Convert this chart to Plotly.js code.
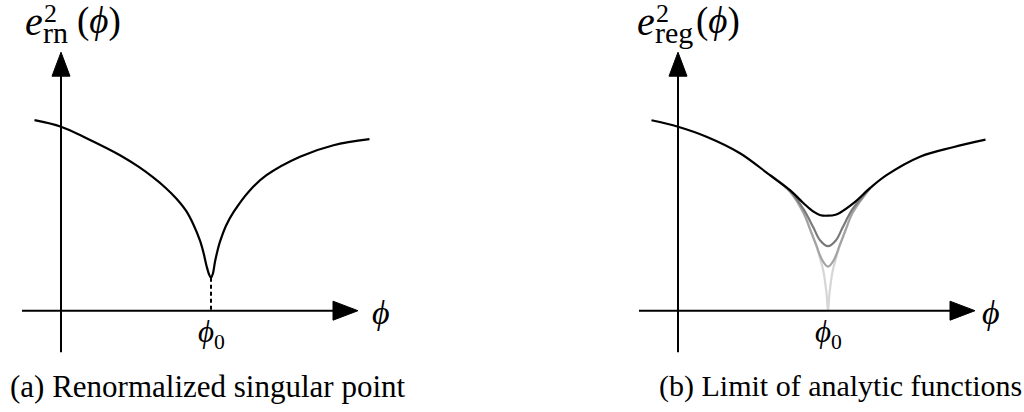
<!DOCTYPE html>
<html>
<head>
<meta charset="utf-8">
<script src="https://cdn.plot.ly/plotly-3.0.1.min.js"></script>
<style>
#chart text { font-family: "Liberation Serif", "Times New Roman", serif !important; }
</style>
</head>
<body style="margin:0;background:#fff">
<div id="chart" style="width:1024px;height:412px"></div>
<script>
// ---- data (phi in schematic units, phi0 = 3) ----
const phi0 = 3.0;
// (a) renormalized error with singular point
const phiRn = [-0.53, 0, 0.51, 1.18, 1.55, 1.85, 2.1, 2.31, 2.5, 2.65, 2.78, 2.85, 2.91, 2.96, 3.0, 3.04, 3.08, 3.13, 3.18, 3.3, 3.45, 3.78, 4.11, 4.78, 5.45, 6.17];
const e2Rn  = [3.81, 3.68, 3.45, 3.11, 2.88, 2.66, 2.45, 2.24, 2.00, 1.72, 1.40, 1.16, 0.90, 0.73, 0.66, 0.75, 0.98, 1.20, 1.38, 1.70, 1.97, 2.41, 2.71, 3.08, 3.31, 3.43];
// (b) regularized errors, sequence of analytic functions
const phiReg = [-0.53, 0, 0.57, 1.24, 1.84, 2.24, 2.51, 2.71, 2.85, 3.0, 3.15, 3.24, 3.51, 3.84, 4.17, 4.84, 5.5, 6.15];
const e2Reg1 = [3.81, 3.68, 3.48, 3.15, 2.71, 2.41, 2.15, 1.98, 1.91, 1.90, 1.92, 1.96, 2.15, 2.45, 2.71, 3.08, 3.27, 3.42];
const phiReg2 = [1.84, 2.24, 2.51, 2.71, 2.84, 3.0, 3.16, 3.29, 3.49, 3.84];
const e2Reg2  = [2.71, 2.40, 2.03, 1.66, 1.41, 1.29, 1.41, 1.66, 2.03, 2.45];
const phiReg3 = [1.84, 2.24, 2.51, 2.64, 2.77, 2.88, 3.0, 3.12, 3.23, 3.36, 3.49, 3.84];
const e2Reg3  = [2.71, 2.38, 1.96, 1.63, 1.30, 1.02, 0.88, 1.02, 1.30, 1.63, 1.96, 2.45];
const phiLim = [1.84, 2.24, 2.51, 2.71, 2.84, 2.91, 2.97, 3.0, 3.03, 3.09, 3.16, 3.29, 3.49, 3.84];
const e2Lim  = [2.71, 2.38, 1.95, 1.45, 1.05, 0.78, 0.35, 0, 0.35, 0.78, 1.05, 1.45, 1.95, 2.45];
// text
const yLabelA = {base: "e", sup: "2", sub: "rn"};
const yLabelB = {base: "e", sup: "2", sub: "reg"};
const xLabel = "ϕ";
const captionA = "(a) Renormalized singular point";
const captionB = "(b) Limit of analytic functions";

// ---- layout helpers ----
const W = 1024, H = 412;
const FONT = "Liberation Serif, Times New Roman, serif";
const toPaperX = x => x / W;
const toPaperY = y => 1 - y / H;

function makeCurve(x, y, xa, ya, color, extra) {
  return Object.assign({
    x: x, y: y, xaxis: xa, yaxis: ya, type: "scatter", mode: "lines",
    line: {color: color, width: 2.2, shape: "spline", smoothing: 1},
    hoverinfo: "skip", showlegend: false
  }, extra || {});
}

const traces = [
  makeCurve(phiRn, e2Rn, "x", "y", "#000000"),
  makeCurve([phi0, phi0], [e2Rn[phiRn.indexOf(phi0)], 0], "x", "y", "#000000",
        {line: {color: "#000", width: 2, dash: "4px,3px"}}),
  makeCurve(phiLim, e2Lim, "x2", "y2", "#d6d6d6"),
  makeCurve(phiReg3, e2Reg3, "x2", "y2", "#a3a3a3"),
  makeCurve(phiReg2, e2Reg2, "x2", "y2", "#7a7a7a"),
  makeCurve(phiReg, e2Reg1, "x2", "y2", "#000000")
];

function axesShapes(xr, yr) {
  const s = [];
  const ln = {color: "#000", width: 2};
  s.push({type: "line", xref: xr, yref: yr, x0: 0, x1: 0, y0: -0.83, y1: 4.75, line: ln});
  s.push({type: "path", xref: xr, yref: yr, path: "M -0.18,4.69 L 0,5.17 L 0.18,4.69 Z",
          fillcolor: "#000", line: {color: "#000", width: 1}});
  s.push({type: "line", xref: xr, yref: yr, x0: -0.78, x1: 5.5, y0: 0, y1: 0, line: ln});
  s.push({type: "path", xref: xr, yref: yr, path: "M 5.44,-0.19 L 5.94,0 L 5.44,0.19 Z",
          fillcolor: "#000", line: {color: "#000", width: 1}});
  return s;
}

function makeAnn(text, x, y, size, xanchor) {
  return {
    text: text, xref: "paper", yref: "paper", x: toPaperX(x), y: toPaperY(y),
    xanchor: xanchor || "center", yanchor: "middle", showarrow: false,
    font: {family: FONT, size: size, color: "#000"}
  };
}

function yLabel(lbl, eLeft, scriptLeft, parenLeft) {
  return [
    makeAnn("<i>" + lbl.base + "</i>", eLeft, 22, 40, "left"),
    makeAnn(lbl.sup, scriptLeft + 1, 14, 26, "left"),
    makeAnn(lbl.sub, scriptLeft, 33, 30, "left"),
    makeAnn("(<i>" + xLabel + "</i>)", parenLeft, 21, 37, "left")
  ];
}

const annotations = [].concat(
  yLabel(yLabelA, 23, 41, 75),
  yLabel(yLabelB, 635, 653, 694),
  [
    makeAnn("<i>" + xLabel + "</i>", 381, 312, 34),
    makeAnn("<i>" + xLabel + "</i>", 991, 312, 34),
    {text: "<i>" + xLabel + "</i><sub>0</sub>", xref: "x", yref: "y", x: phi0, y: -0.47, showarrow: false,
     xanchor: "center", yanchor: "middle", font: {family: FONT, size: 31, color: "#000"}},
    {text: "<i>" + xLabel + "</i><sub>0</sub>", xref: "x2", yref: "y2", x: phi0, y: -0.47, showarrow: false,
     xanchor: "center", yanchor: "middle", font: {family: FONT, size: 31, color: "#000"}},
    makeAnn(captionA, 208, 386, 31),
    makeAnn(captionB, 840, 386, 30)
  ]
);

const hidden = {visible: false, showgrid: false, zeroline: false, fixedrange: true};
const layout = {
  width: W, height: H,
  margin: {l: 0, r: 0, t: 0, b: 0, pad: 0},
  paper_bgcolor: "#fff", plot_bgcolor: "rgba(0,0,0,0)",
  font: {family: FONT, color: "#000"},
  xaxis:  Object.assign({domain: [0, 400 / W], range: [-1.22, 6.78], anchor: "y"}, hidden),
  yaxis:  Object.assign({domain: [0, 1], range: [-2.026, 6.214], anchor: "x"}, hidden),
  xaxis2: Object.assign({domain: [600 / W, 1], range: [-1.56, 6.92], anchor: "y2"}, hidden),
  yaxis2: Object.assign({domain: [0, 1], range: [-2.026, 6.214], anchor: "x2"}, hidden),
  shapes: axesShapes("x", "y").concat(axesShapes("x2", "y2")),
  annotations: annotations,
  showlegend: false
};

Plotly.newPlot("chart", traces, layout, {displayModeBar: false});
</script>
</body>
</html>
